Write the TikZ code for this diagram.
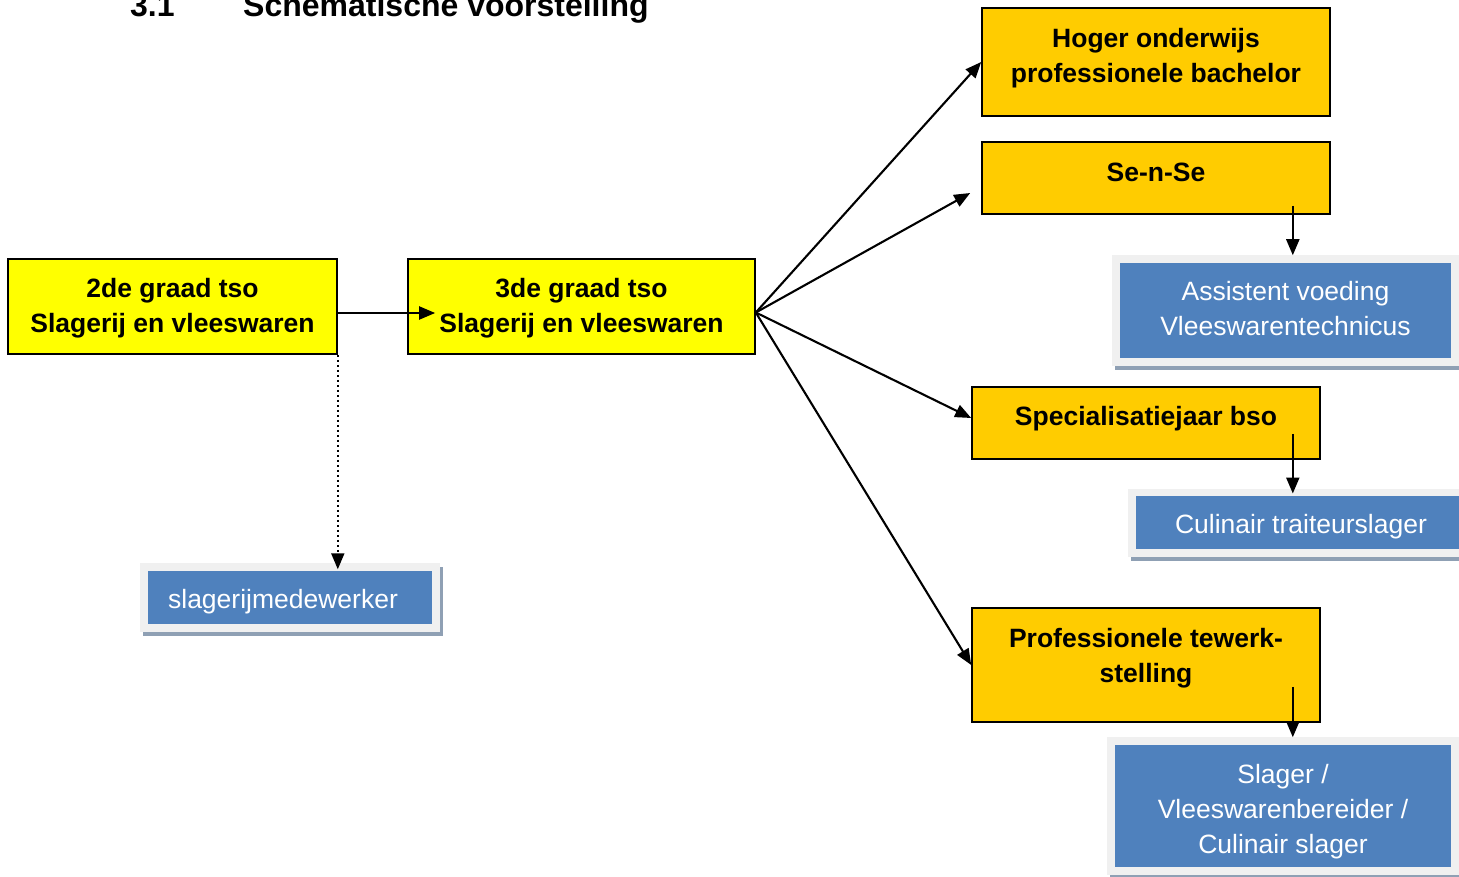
\documentclass[tikz,border=0pt]{standalone}
\usepackage{fontspec}
\setmainfont{Liberation Sans}
\usetikzlibrary{arrows.meta,shadows}

\definecolor{geelkleur}{HTML}{FFFF00}
\definecolor{oranjekleur}{HTML}{FFCC00}
\definecolor{blauwkleur}{HTML}{4F81BD}
\definecolor{lichtgrijs}{HTML}{F0F0F0}
\definecolor{schaduw}{HTML}{8FA0B4}

\tikzset{
  tekst/.style={font=\bfseries\fontsize{26.5}{35}\selectfont, align=center},
  wittekst/.style={font=\fontsize{26.5}{35}\selectfont, align=center, text=white},
  kop/.style={font=\bfseries\fontsize{32}{38}\selectfont, inner sep=0pt},
  geel/.style={draw=black, line width=1.6pt, fill=geelkleur, inner sep=0pt},
  oranje/.style={geel, fill=oranjekleur},
  blauw/.style={fill=blauwkleur, draw=lichtgrijs, line width=7.5pt, inner sep=0pt,
    general shadow={draw=schaduw, fill=schaduw, line width=7.5pt,
      shadow xshift=3pt, shadow yshift=-4pt}},
  pijl/.style={->, line width=2.1pt},
  >={Triangle[length=16pt,width=13pt]}
}

\begin{document}
\begin{tikzpicture}[x=1pt,y=-1pt]
    \useasboundingbox (0,0) rectangle (1459,877);

    \node[kop, anchor=base west] (nr) at (130,17) {3.1};
    \node[kop, anchor=base west] (titel) at (243,17) {Schematische voorstelling};

    \node[geel, minimum width=329pt, minimum height=95pt,
          label={[tekst,yshift=-2pt]center:2de graad tso\\Slagerij en vleeswaren}] (tweede) at (172.5,306.5) {};
    \node[geel, minimum width=347pt, minimum height=95pt,
          label={[tekst,yshift=-2pt]center:3de graad tso\\Slagerij en vleeswaren}] (derde) at (581.5,306.5) {};

    \node[oranje, minimum width=348pt, minimum height=108pt,
          label={[tekst,yshift=3.5pt]center:Hoger onderwijs\\professionele bachelor}] (hoger) at (1156,62) {};
    \node[oranje, minimum width=348pt, minimum height=72pt,
          label={[tekst,yshift=6pt]center:Se-n-Se}] (sense) at (1156,178) {};
    \node[oranje, minimum width=348pt, minimum height=72pt,
          label={[tekst,yshift=4pt]center:Specialisatiejaar bso}] (spec) at (1146,423) {};
    \node[oranje, minimum width=348pt, minimum height=114pt,
          label={[tekst,yshift=7pt]center:Professionele tewerk-\\stelling}] (prof) at (1146,665) {};

    \node[blauw, minimum width=339pt, minimum height=103pt,
          label={[wittekst,yshift=2pt]center:Assistent voeding\\Vleeswarentechnicus}] (assist) at (1285.5,310.5) {};
    \node[blauw, minimum width=338pt, minimum height=60.5pt,
          label={[wittekst,yshift=-4pt]center:Culinair traiteurslager}] (traiteur) at (1301,522.5) {};
    \node[blauw, minimum width=292pt, minimum height=61pt,
          label={[wittekst,xshift=-7pt,yshift=-4pt]center:slagerijmedewerker}] (medew) at (290,597.5) {};
    \node[blauw, minimum width=344pt, minimum height=130pt,
          label={[wittekst,yshift=-6pt]center:Slager /\\Vleeswarenbereider /\\Culinair slager}] (slager) at (1283,806) {};

    \draw[pijl] ([yshift=-6.5pt]tweede.east) -- ([xshift=28pt,yshift=-6.5pt]derde.west);
    \draw[pijl, dash pattern=on 2pt off 3pt, shorten >=-6pt] (tweede.south east) -- (tweede.south east |- medew.north);

    \coordinate (waaier) at ([yshift=-6pt]derde.east);
    \draw[pijl] (waaier) -- (hoger.west);
    \draw[pijl] (waaier) -- ([xshift=-11pt,yshift=-15pt]sense.west);
    \draw[pijl] (waaier) -- ([yshift=5pt]spec.west);
    \draw[pijl] (waaier) -- (prof.west);

    \coordinate (s1) at ([xshift=-38pt,yshift=9pt]sense.south east);
    \coordinate (s2) at ([xshift=-28pt,yshift=26pt]spec.south east);
    \coordinate (s3) at ([xshift=-28pt,yshift=36pt]prof.south east);
    \draw[pijl] (s1) -- (s1 |- assist.north);
    \draw[pijl, shorten >=-5pt] (s2) -- (s2 |- traiteur.north);
    \draw[pijl] (s3) -- (s3 |- slager.north);

\end{tikzpicture}
\end{document}
